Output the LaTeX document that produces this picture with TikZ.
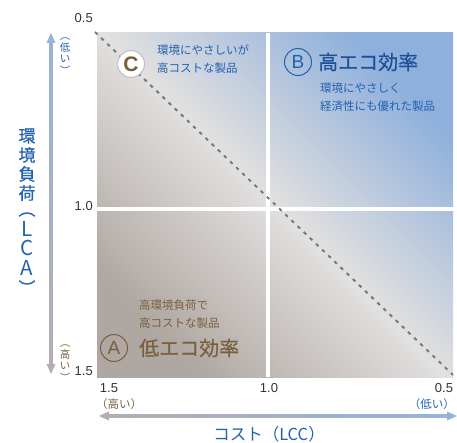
\documentclass[tikz,border=0pt]{standalone}
\usepackage{fontspec}
\setmainfont{Liberation Sans}
\newfontfamily\jp{Noto Sans CJK JP}
\newfontfamily\jpm[FakeBold=0.5]{Noto Sans CJK JP}
\definecolor{jblue}{HTML}{2262B0}
\definecolor{tblue}{HTML}{1E5098}
\definecolor{jbrown}{HTML}{7A5F3E}
\definecolor{gbl}{HTML}{AFA7A1}
\definecolor{gmid}{HTML}{E2E0E0}
\definecolor{gtr}{HTML}{8FB0DC}
\definecolor{arblue}{HTML}{97B3DA}
\definecolor{argray}{HTML}{B2AEB2}
\definecolor{numc}{HTML}{333333}
\begin{document}
\begin{tikzpicture}[x=1pt,y=-1pt,
  small/.style={font=\jp\fontsize{11.5}{18}\selectfont, align=left, inner sep=0pt, anchor=west},
  big/.style={font=\jpm\fontsize{20}{20}\selectfont, inner sep=0pt, anchor=west},
  num/.style={font=\fontsize{13}{13}\selectfont, text=numc, inner sep=0pt},
  vsmall/.style={font=\jp\fontsize{10.5}{11}\selectfont, inner sep=0pt},
  ytl/.style={font=\jpm\fontsize{17}{17}\selectfont, text=jblue, inner sep=0pt},
  ylat/.style={font=\jp\fontsize{20.5}{21}\selectfont, text=jblue, inner sep=0pt, anchor=base, text height=14.5pt, text depth=0pt},
  circ/.style={circle, minimum size=27pt, inner sep=0pt, line width=1pt}
]
\useasboundingbox (0,0) rectangle (457,443);
\fill[white] (0,0) rectangle (457,443);
% plot area
\shade[bottom color=gbl, top color=gtr, middle color=gmid, shading angle=-45] (97,33) rectangle (453,377);
\fill[white] (266,33) rectangle (270,377);
\fill[white] (97,207) rectangle (453,211);
% diagonal
\coordinate (d1) at (95,32);
\coordinate (d2) at (453,375);
\draw[black!52, line width=2pt, dash pattern=on 3.5pt off 5pt] (d1) -- (d2);
% quadrant C
\node[circ, fill=white, draw=black!25, text=jbrown, font=\bfseries\fontsize{21}{21}\selectfont] (cc) at (131,64) {C};
\node[small, text=jblue] (ct) at (157,59) {環境にやさしいが\\高コストな製品};
% quadrant B
\node[circ, draw=jblue, text=jblue, font=\fontsize{19}{19}\selectfont] (bc) at (298,62) {B};
\node[big, text=tblue] (bt) at (318,62) {高エコ効率};
\node[small, text=jblue] (bs) at (320,97) {環境にやさしく\\経済性にも優れた製品};
% quadrant A
\node[circ, draw=jbrown, text=jbrown, font=\fontsize{19}{19}\selectfont] (ac) at (114,348) {A};
\node[big, text=jbrown] (at) at (139,348) {低エコ効率};
\node[small, text=jbrown] (as) at (139,314) {高環境負荷で\\高コストな製品};
% left axis
\shade[top color=arblue, bottom color=argray] (49.7,42) rectangle (52.3,365);
\fill[arblue] (51,33) -- (55.5,43) -- (46.5,43) -- cycle;
\fill[argray] (51,374) -- (55.5,364) -- (46.5,364) -- cycle;
\node[vsmall, text=jblue, rotate=-90] (lo1) at (65,36) {（};
\node[vsmall, text=jblue] (lo2) at (65,48) {低};
\node[vsmall, text=jblue] (lo3) at (65,59) {い};
\node[vsmall, text=jblue, rotate=-90] (lo4) at (65,71) {）};
\node[vsmall, text=jbrown, rotate=-90] (hi1) at (65,343) {（};
\node[vsmall, text=jbrown] (hi2) at (65,355) {高};
\node[vsmall, text=jbrown] (hi3) at (65,366) {い};
\node[vsmall, text=jbrown, rotate=-90] (hi4) at (65,378) {）};
\node[num, anchor=east] (y05) at (93,18) {0.5};
\node[num, anchor=east] (y10) at (93,206) {1.0};
\node[num, anchor=east] (y15) at (93,371) {1.5};
% y title
\node[ytl] (t1) at (27,136) {環};
\node[ytl] (t2) at (27,155) {境};
\node[ytl] (t3) at (27,174) {負};
\node[ytl] (t4) at (27,193) {荷};
\node[ytl, rotate=-90] (t5) at (27,209) {（};
\node[ylat] (t6) at (27,237) {L};
\node[ylat] (t7) at (27,256) {C};
\node[ylat] (t8) at (27,275.5) {A};
\node[ytl, rotate=-90] (t9) at (27,288) {）};
% bottom axis
\node[num] (x15) at (109,388) {1.5};
\node[num] (x10) at (269,388) {1.0};
\node[num] (x05) at (444,388) {0.5};
\node[font=\jp\fontsize{11.5}{12}\selectfont, text=jbrown, inner sep=0pt, anchor=west] (xhi) at (96,404) {（高い）};
\node[font=\jp\fontsize{11.5}{12}\selectfont, text=jblue, inner sep=0pt, anchor=east] (xlo) at (455,404) {（低い）};
\shade[left color=argray, right color=arblue] (108,414.7) rectangle (448,417.3);
\fill[argray] (99,416) -- (109,411.5) -- (109,420.5) -- cycle;
\fill[arblue] (457,416) -- (447,411.5) -- (447,420.5) -- cycle;
\node[font=\jp\fontsize{16.5}{17}\selectfont, text=jblue, inner sep=0pt] (xt) at (269,434) {コスト（LCC）};
\end{tikzpicture}
\end{document}
